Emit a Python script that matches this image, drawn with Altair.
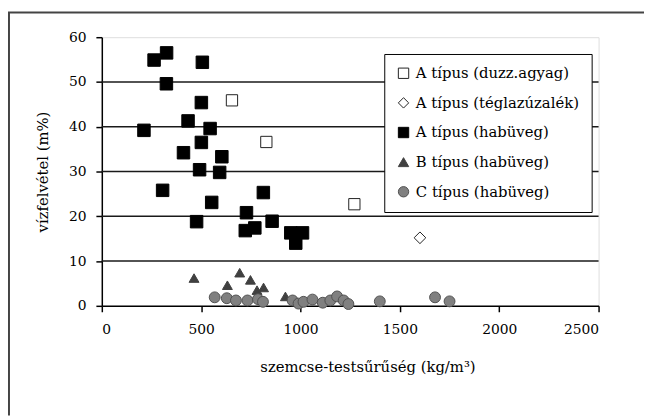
import altair as alt
import pandas as pd

series_names = [
    "A típus (duzz.agyag)",
    "A típus (téglazúzalék)",
    "A típus (habüveg)",
    "B típus (habüveg)",
    "C típus (habüveg)",
]

a_duzz_x = [655, 828, 1271]
a_duzz_y = [45.9, 36.6, 22.7]

a_tegla_x = [1601]
a_tegla_y = [15.2]

a_hab_x = [326, 263, 506, 325, 501, 434, 212, 545, 501, 411, 604, 492, 593,
           306, 813, 553, 728, 477, 857, 722, 770, 951, 1010, 976]
a_hab_y = [56.5, 54.9, 54.4, 49.6, 45.4, 41.3, 39.2, 39.6, 36.5, 34.2, 33.3, 30.4, 29.8,
           25.8, 25.3, 23.1, 20.8, 18.8, 18.9, 16.8, 17.4, 16.3, 16.3, 14.0]

b_hab_x = [464, 694, 748, 632, 781, 814, 924]
b_hab_y = [6.2, 7.4, 5.8, 4.6, 3.5, 4.1, 2.1]

c_hab_x = [568, 629, 675, 733, 786, 811, 960, 990, 1015, 1060, 1112, 1150, 1184, 1217, 1241, 1399, 1677, 1750]
c_hab_y = [1.9, 1.7, 1.2, 1.2, 1.5, 0.9, 1.2, 0.5, 0.9, 1.4, 0.7, 1.2, 2.1, 1.2, 0.4, 1.0, 1.9, 1.0]

x_ticks = [0, 500, 1000, 1500, 2000, 2500]
y_ticks = [0, 10, 20, 30, 40, 50, 60]
grid_vals = [10, 20, 30, 40, 50]

xs_all = [a_duzz_x, a_tegla_x, a_hab_x, b_hab_x, c_hab_x]
ys_all = [a_duzz_y, a_tegla_y, a_hab_y, b_hab_y, c_hab_y]
rows = []
for name, xs, ys in zip(series_names, xs_all, ys_all):
    for xv, yv in zip(xs, ys):
        rows.append({"series": name, "x": xv, "y": yv})
df = pd.DataFrame(rows)

FONT = "DejaVu Serif"
marker_sizes = [130, 140, 160, 100, 121]

x_scale = alt.Scale(domain=[0, 2500], nice=False, zero=False)
y_scale = alt.Scale(domain=[0, 60], nice=False)

x_axis = alt.Axis(
    values=x_ticks, format="d", grid=False, domainColor="black", domainWidth=1.5,
    tickColor="black", tickWidth=1.5, tickSize=6,
    labelColor="black", labelPadding=11,
    title="szemcse-testsűrűség (kg/m³)",
    titleColor="black",
    titleX=269, titleY=62, titleAlign="center", titleBaseline="middle",
)
y_axis = alt.Axis(
    values=y_ticks, format="d", grid=False, domainColor="black", domainWidth=1.5,
    tickColor="black", tickWidth=1.5, tickSize=6,
    labelColor="black", labelPadding=10,
    title="vízfelvétel (m%)",
    titleColor="black",
    titleX=-60, titleY=136, titleAlign="center", titleBaseline="middle",
)

grid = alt.Chart(pd.DataFrame({"y": grid_vals})).mark_rule(
    color="#1a1a1a", strokeWidth=1.5
).encode(y=alt.Y("y:Q", scale=y_scale, axis=y_axis))

one = pd.DataFrame({"k": [0]})

shape_scale = alt.Scale(domain=series_names,
                        range=["square", "diamond", "square", "triangle-up", "circle"])
fill_scale = alt.Scale(domain=series_names,
                       range=["white", "white", "black", "#404040", "#808080"])
stroke_scale = alt.Scale(domain=series_names,
                         range=["#222222", "#222222", "black", "#404040", "#505050"])

base = alt.Chart(df)
point_layers = []
for name, msize in zip(series_names, marker_sizes):
    point_layers.append(
        base.transform_filter(alt.datum.series == name)
        .mark_point(filled=True, opacity=1, strokeWidth=1, size=msize)
        .encode(
            x=alt.X("x:Q", scale=x_scale, axis=x_axis),
            y=alt.Y("y:Q", scale=y_scale, axis=y_axis),
            shape=alt.Shape("series:N", scale=shape_scale, title=None),
            fill=alt.Fill("series:N", scale=fill_scale, title=None),
            stroke=alt.Stroke("series:N", scale=stroke_scale, title=None),
        )
    )

frame_left = alt.Chart(one).mark_rule(color="#444444", strokeWidth=2).encode(
    x=alt.value(-94), y=alt.value(-25), y2=alt.value(383))
frame_top = alt.Chart(one).mark_rule(color="#444444", strokeWidth=2).encode(
    x=alt.value(-95), x2=alt.value(549), y=alt.value(-25))

chart = alt.layer(grid, *point_layers, frame_left, frame_top).properties(
    width=503, height=272,
    autosize=alt.AutoSizeParams(type="none"),
    padding={"left": 95, "top": 27, "right": 46, "bottom": 111},
    background="white",
).configure_view(stroke="#888888", strokeWidth=1).configure(
    font=FONT
).configure_axis(
    labelFont=FONT, labelFontSize=14, titleFont=FONT, titleFontSize=15, titleFontWeight="normal"
).configure_legend(
    orient="none", legendX=286, legendY=17,
    labelFont=FONT, labelFontSize=15, labelColor="black",
    symbolSize=110, symbolStrokeWidth=1, rowPadding=14, labelOffset=5,
    padding=12, labelLimit=400, strokeColor="black", fillColor="white",
)

chart.save("out.html", embed_options={"renderer": "svg", "actions": False})
